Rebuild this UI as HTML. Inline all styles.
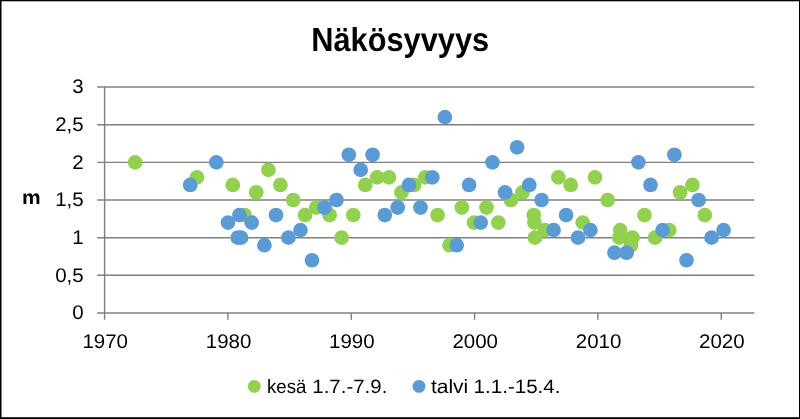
<!DOCTYPE html>
<html lang="fi">
<head>
<meta charset="utf-8">
<title>Näkösyvyys</title>
<style>
html,body{margin:0;padding:0;background:#fff;}
body{width:800px;height:419px;overflow:hidden;}
svg{display:block;}
text{font-family:"Liberation Sans",sans-serif;fill:#000;text-rendering:geometricPrecision;}
svg{will-change:transform;}
.b{font-weight:bold;}
</style>
</head>
<body>
<svg width="800" height="419" viewBox="0 0 800 419">
<rect x="0" y="0" width="800" height="419" fill="#fff"/>
<g fill="#000">
<rect x="0" y="0" width="800" height="1.3"/>
<rect x="0" y="0" width="1.5" height="419"/>
<rect x="0" y="417.2" width="800" height="1.8"/>
<rect x="799" y="0" width="1" height="419"/>
</g>
<g stroke="#808080" stroke-width="1.45" fill="none">
<line x1="97.2" y1="312.95" x2="754.3" y2="312.95"/>
<line x1="97.2" y1="275.30" x2="754.3" y2="275.30"/>
<line x1="97.2" y1="237.65" x2="754.3" y2="237.65"/>
<line x1="97.2" y1="200.00" x2="754.3" y2="200.00"/>
<line x1="97.2" y1="162.35" x2="754.3" y2="162.35"/>
<line x1="97.2" y1="124.70" x2="754.3" y2="124.70"/>
<line x1="97.2" y1="87.05" x2="754.3" y2="87.05"/>
<line x1="104.60" y1="86.45" x2="104.60" y2="319.75"/>
<line x1="227.93" y1="312.95" x2="227.93" y2="319.75"/>
<line x1="351.26" y1="312.95" x2="351.26" y2="319.75"/>
<line x1="474.59" y1="312.95" x2="474.59" y2="319.75"/>
<line x1="597.92" y1="312.95" x2="597.92" y2="319.75"/>
<line x1="721.25" y1="312.95" x2="721.25" y2="319.75"/>
</g>
<g fill="#92d050">
<circle cx="135.10" cy="162.35" r="7.35"/>
<circle cx="197.00" cy="177.41" r="7.35"/>
<circle cx="232.80" cy="184.94" r="7.35"/>
<circle cx="244.50" cy="215.06" r="7.35"/>
<circle cx="256.20" cy="192.47" r="7.35"/>
<circle cx="268.40" cy="169.88" r="7.35"/>
<circle cx="280.40" cy="184.94" r="7.35"/>
<circle cx="293.20" cy="200.00" r="7.35"/>
<circle cx="305.10" cy="215.06" r="7.35"/>
<circle cx="316.40" cy="207.53" r="7.35"/>
<circle cx="329.60" cy="215.06" r="7.35"/>
<circle cx="341.60" cy="237.65" r="7.35"/>
<circle cx="353.30" cy="215.06" r="7.35"/>
<circle cx="365.30" cy="184.94" r="7.35"/>
<circle cx="377.20" cy="177.41" r="7.35"/>
<circle cx="389.00" cy="177.41" r="7.35"/>
<circle cx="401.50" cy="192.47" r="7.35"/>
<circle cx="414.00" cy="184.94" r="7.35"/>
<circle cx="425.30" cy="177.41" r="7.35"/>
<circle cx="437.60" cy="215.06" r="7.35"/>
<circle cx="449.60" cy="245.18" r="7.35"/>
<circle cx="461.90" cy="207.53" r="7.35"/>
<circle cx="474.00" cy="222.59" r="7.35"/>
<circle cx="486.50" cy="207.53" r="7.35"/>
<circle cx="498.30" cy="222.59" r="7.35"/>
<circle cx="511.00" cy="200.00" r="7.35"/>
<circle cx="522.50" cy="192.47" r="7.35"/>
<circle cx="533.75" cy="215.06" r="7.35"/>
<circle cx="534.40" cy="222.59" r="7.35"/>
<circle cx="535.00" cy="237.65" r="7.35"/>
<circle cx="545.00" cy="230.12" r="7.35"/>
<circle cx="558.40" cy="177.41" r="7.35"/>
<circle cx="570.70" cy="184.94" r="7.35"/>
<circle cx="582.70" cy="222.59" r="7.35"/>
<circle cx="595.00" cy="177.41" r="7.35"/>
<circle cx="607.70" cy="200.00" r="7.35"/>
<circle cx="620.20" cy="230.12" r="7.35"/>
<circle cx="619.40" cy="237.65" r="7.35"/>
<circle cx="632.50" cy="237.65" r="7.35"/>
<circle cx="631.00" cy="245.18" r="7.35"/>
<circle cx="644.50" cy="215.06" r="7.35"/>
<circle cx="655.10" cy="237.65" r="7.35"/>
<circle cx="669.30" cy="230.12" r="7.35"/>
<circle cx="680.00" cy="192.47" r="7.35"/>
<circle cx="692.40" cy="184.94" r="7.35"/>
<circle cx="704.80" cy="215.06" r="7.35"/>
</g>
<g fill="#5b9bd5">
<circle cx="190.20" cy="184.94" r="7.35"/>
<circle cx="216.30" cy="162.35" r="7.35"/>
<circle cx="228.00" cy="222.59" r="7.35"/>
<circle cx="237.75" cy="237.65" r="7.35"/>
<circle cx="239.40" cy="215.06" r="7.35"/>
<circle cx="241.00" cy="237.65" r="7.35"/>
<circle cx="251.70" cy="222.59" r="7.35"/>
<circle cx="264.40" cy="245.18" r="7.35"/>
<circle cx="276.00" cy="215.06" r="7.35"/>
<circle cx="288.40" cy="237.65" r="7.35"/>
<circle cx="300.50" cy="230.12" r="7.35"/>
<circle cx="312.00" cy="260.24" r="7.35"/>
<circle cx="324.50" cy="207.53" r="7.35"/>
<circle cx="336.50" cy="200.00" r="7.35"/>
<circle cx="348.80" cy="154.82" r="7.35"/>
<circle cx="360.70" cy="169.88" r="7.35"/>
<circle cx="372.60" cy="154.82" r="7.35"/>
<circle cx="384.80" cy="215.06" r="7.35"/>
<circle cx="397.70" cy="207.53" r="7.35"/>
<circle cx="409.00" cy="184.94" r="7.35"/>
<circle cx="420.50" cy="207.53" r="7.35"/>
<circle cx="432.30" cy="177.41" r="7.35"/>
<circle cx="444.90" cy="117.17" r="7.35"/>
<circle cx="456.70" cy="245.18" r="7.35"/>
<circle cx="469.10" cy="184.94" r="7.35"/>
<circle cx="480.70" cy="222.59" r="7.35"/>
<circle cx="492.50" cy="162.35" r="7.35"/>
<circle cx="505.10" cy="192.47" r="7.35"/>
<circle cx="517.10" cy="147.29" r="7.35"/>
<circle cx="529.30" cy="184.94" r="7.35"/>
<circle cx="541.60" cy="200.00" r="7.35"/>
<circle cx="553.60" cy="230.12" r="7.35"/>
<circle cx="566.10" cy="215.06" r="7.35"/>
<circle cx="578.00" cy="237.65" r="7.35"/>
<circle cx="590.40" cy="230.12" r="7.35"/>
<circle cx="614.50" cy="252.71" r="7.35"/>
<circle cx="626.60" cy="252.71" r="7.35"/>
<circle cx="638.40" cy="162.35" r="7.35"/>
<circle cx="650.50" cy="184.94" r="7.35"/>
<circle cx="662.60" cy="230.12" r="7.35"/>
<circle cx="674.40" cy="154.82" r="7.35"/>
<circle cx="686.50" cy="260.24" r="7.35"/>
<circle cx="698.60" cy="200.00" r="7.35"/>
<circle cx="711.60" cy="237.65" r="7.35"/>
<circle cx="723.60" cy="230.12" r="7.35"/>
</g>
<text class="b" transform="translate(400.20 50.50) scale(0.9240 1)" font-size="33.30" text-anchor="middle">Näkösyvyys</text>
<text transform="translate(83.70 319.25) scale(1.0350 1)" font-size="19.80" text-anchor="end">0</text>
<text transform="translate(83.70 281.60) scale(1.0350 1)" font-size="19.80" text-anchor="end">0,5</text>
<text transform="translate(83.70 243.95) scale(1.0350 1)" font-size="19.80" text-anchor="end">1</text>
<text transform="translate(83.70 206.30) scale(1.0350 1)" font-size="19.80" text-anchor="end">1,5</text>
<text transform="translate(83.70 168.65) scale(1.0350 1)" font-size="19.80" text-anchor="end">2</text>
<text transform="translate(83.70 131.00) scale(1.0350 1)" font-size="19.80" text-anchor="end">2,5</text>
<text transform="translate(83.70 93.35) scale(1.0350 1)" font-size="19.80" text-anchor="end">3</text>
<text transform="translate(105.20 348.10) scale(1.0350 1)" font-size="19.80" text-anchor="middle">1970</text>
<text transform="translate(228.53 348.10) scale(1.0350 1)" font-size="19.80" text-anchor="middle">1980</text>
<text transform="translate(351.86 348.10) scale(1.0350 1)" font-size="19.80" text-anchor="middle">1990</text>
<text transform="translate(475.19 348.10) scale(1.0350 1)" font-size="19.80" text-anchor="middle">2000</text>
<text transform="translate(598.52 348.10) scale(1.0350 1)" font-size="19.80" text-anchor="middle">2010</text>
<text transform="translate(721.85 348.10) scale(1.0350 1)" font-size="19.80" text-anchor="middle">2020</text>
<text class="b" transform="translate(31.30 203.80) scale(1.0600 1)" font-size="19.80" text-anchor="middle">m</text>
<circle cx="254.3" cy="386.4" r="6.4" fill="#92d050"/>
<text y="392.6" font-size="19.30"><tspan x="267.00" textLength="39.34" lengthAdjust="spacingAndGlyphs">kesä</tspan> <tspan x="312.30" textLength="75.06" lengthAdjust="spacingAndGlyphs">1.7.-7.9.</tspan></text>
<circle cx="419.0" cy="386.4" r="6.4" fill="#5b9bd5"/>
<text y="392.6" font-size="19.30"><tspan x="430.90" textLength="37.41" lengthAdjust="spacingAndGlyphs">talvi</tspan> <tspan x="473.60" textLength="86.85" lengthAdjust="spacingAndGlyphs">1.1.-15.4.</tspan></text>
</svg>
</body>
</html>
